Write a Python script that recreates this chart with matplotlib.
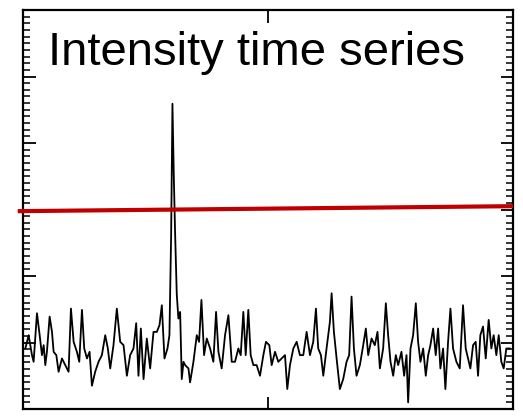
import matplotlib
matplotlib.use("Agg")
import matplotlib.pyplot as plt
import numpy as np
from matplotlib.ticker import MultipleLocator, FixedLocator

# time (s) and intensity (arb. units)
time = [2.9, 6.9, 11.0, 13.0, 17.1, 20.4, 23.2, 25.3, 27.3, 29.3, 32.6, 35.5, 37.5, 40.8, 43.6,
        47.7, 51.8, 55.8, 58.7, 62.0, 66.0, 68.9, 72.2, 75.0, 78.3, 81.5, 84.4, 88.4, 92.5, 96.6,
        100.7, 103.9, 106.8, 110.8, 114.9, 119.0, 123.1, 127.2, 131.2, 135.3, 138.6, 141.4, 144.3,
        147.6, 151.6, 155.7, 159.8, 163.9, 167.1, 170.0, 173.2, 176.9, 179.3, 181.4, 183.0, 184.6,
        186.3, 188.3, 190.3, 192.4, 194.4, 196.5, 198.5, 202.6, 204.6, 208.7, 212.8, 215.6, 218.5,
        221.7, 225.0, 229.1, 233.1, 236.4, 239.3, 243.3, 247.4, 251.5, 255.6, 259.6, 263.7, 266.6,
        269.8, 272.7, 275.9, 278.8, 282.1, 286.1, 290.2, 294.3, 297.5, 301.6, 304.5, 308.6, 312.6,
        316.7, 320.8, 323.6, 326.9, 331.0, 335.1, 339.1, 343.2, 347.3, 351.4, 355.4, 358.7, 361.5,
        364.8, 367.7, 371.7, 375.8, 377.9, 380.7, 384.0, 388.0, 392.1, 396.2, 399.4, 402.3, 405.2,
        408.4, 412.5, 416.6, 419.8, 422.7, 426.8, 430.8, 434.1, 437.0, 441.0, 444.3, 447.1, 450.0,
        453.3, 456.5, 459.4, 463.4, 466.7, 469.6, 471.6, 474.5, 477.7, 481.0, 483.8, 486.7, 490.0,
        493.2, 496.1, 498.9, 502.2, 505.4, 508.3, 511.1, 514.4, 517.2, 520.5, 523.4, 526.6, 530.7,
        534.8, 538.8, 542.1, 545.0, 547.8, 551.1, 554.3, 557.2, 560.0, 563.3, 566.6, 570.2, 573.5,
        576.3, 579.6, 582.5, 585.7, 588.6, 591.8, 595.9]

intensity = [0.91, 1.11, 0.81, 0.71, 1.44, 1.11, 0.81, 0.96, 0.66, 0.86, 1.39, 1.16, 0.86, 0.81,
             0.56, 0.76, 0.66, 0.56, 1.51, 1.01, 0.86, 0.71, 1.49, 0.91, 0.76, 0.86, 0.35, 0.56,
             0.71, 0.81, 1.11, 0.91, 0.61, 0.96, 1.51, 1.01, 0.96, 0.50, 0.81, 0.91, 1.29, 0.50,
             1.21, 0.45, 1.06, 0.61, 1.16, 1.16, 1.26, 1.56, 0.76, 0.91, 1.11, 2.62, 4.59, 3.53,
             2.62, 1.72, 1.36, 1.46, 0.45, 0.71, 0.66, 0.61, 0.40, 0.71, 1.11, 1.01, 1.64, 0.81,
             1.06, 0.91, 0.71, 1.46, 0.86, 0.61, 1.11, 1.41, 0.71, 0.71, 0.91, 0.81, 1.46, 0.81,
             1.49, 0.81, 0.66, 0.66, 0.50, 0.81, 1.01, 0.96, 0.66, 0.86, 0.71, 0.76, 0.81, 0.30,
             0.66, 0.91, 1.01, 0.81, 0.81, 1.16, 0.81, 1.01, 1.51, 0.91, 0.81, 0.50, 0.91, 1.31,
             1.74, 1.16, 0.76, 0.30, 0.45, 0.71, 0.81, 1.69, 0.91, 0.50, 0.66, 0.96, 1.21, 0.81,
             1.06, 0.96, 1.16, 0.61, 0.91, 1.59, 1.11, 0.71, 0.50, 0.81, 0.66, 0.86, 0.50, 0.81,
             0.10, 0.91, 1.11, 1.59, 1.01, 0.71, 0.91, 0.50, 0.81, 0.96, 1.21, 0.81, 1.21, 0.61,
             0.91, 0.30, 1.01, 1.51, 0.91, 0.71, 0.61, 1.56, 0.91, 0.76, 0.61, 0.96, 1.01, 0.50,
             1.11, 1.24, 0.76, 1.34, 0.91, 1.11, 0.81, 1.11, 0.71, 0.61, 0.91, 0.91]

# threshold line (drawn slightly sloped in the reference)
threshold_t = [-6.5, 600.0]
threshold_val = [2.975, 3.05]

title_text = "Intensity time series"

fig = plt.figure(figsize=(5.23, 4.19), dpi=100)
ax = fig.add_axes([23/523, 1 - 409/419, 490/523, 399/419])
ax.plot(time, intensity, color="black", lw=1.3)
ax.plot(threshold_t, threshold_val, color="#C00000", lw=3.0, clip_on=False,
        solid_capstyle="butt", zorder=5)

ax.set_xlim(0, 600)
ax.set_ylim(0, 6)
ax.xaxis.set_major_locator(FixedLocator([0, 300, 600]))
ax.yaxis.set_major_locator(FixedLocator(np.arange(0, 7, 1)))
ax.yaxis.set_minor_locator(FixedLocator(np.arange(0, 6.01, 0.1)))
ax.xaxis.set_minor_locator(FixedLocator([]))
ax.tick_params(axis="both", which="both", direction="in", top=True, right=True,
               labelbottom=False, labelleft=False, color="black")
ax.tick_params(axis="both", which="major", length=9, width=1.3)
ax.tick_params(axis="y", which="minor", length=5, width=1.1, left=True, right=True)
for s in ax.spines.values():
    s.set_linewidth(1.6)

ax.text(0.05, 0.862, title_text, transform=ax.transAxes, fontsize=34,
        family="Liberation Sans", color="black", va="baseline", ha="left")

fig.savefig("out.png", dpi=100)
